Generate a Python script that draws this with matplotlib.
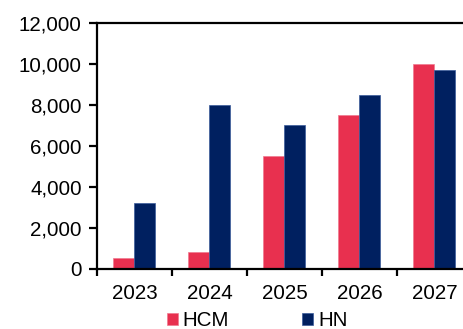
import matplotlib

matplotlib.use("Agg")
import matplotlib.pyplot as plt
import numpy as np

years = ["2023", "2024", "2025", "2026", "2027"]
hcm = [500, 800, 5500, 7500, 10000]
hn = [3200, 8000, 7000, 8500, 9700]
y_ticks = [0, 2000, 4000, 6000, 8000, 10000, 12000]

plt.rcParams["font.family"] = ["Liberation Sans", "DejaVu Sans"]

fig = plt.figure(figsize=(4.64, 3.29), dpi=100)
# 右側被裁掉：axes 超出畫布一點
ax = fig.add_axes([97 / 464, 1 - 268.7 / 329, 375 / 464, 245.7 / 329])

x = np.arange(len(years))
w = 0.28
ax.bar(x - w / 2, hcm, w, color="#E8304F", edgecolor="#F07A90", linewidth=0.5, label="HCM")
ax.bar(x + w / 2, hn, w, color="#002060", edgecolor="#3A5A9A", linewidth=0.5, label="HN")

fs = 14.8
ax.set_xlim(-0.5, len(years) - 0.5)
ax.set_ylim(0, 12000)
ax.set_yticks(y_ticks)
ax.set_yticklabels([f"{v:,}" for v in y_ticks], fontsize=fs)

# x 軸刻度畫在組與組之間，標籤放中間
ax.set_xticks(np.arange(len(years) + 1) - 0.5)
ax.set_xticklabels([])
ax.set_xticks(x, minor=True)
ax.set_xticklabels(years, minor=True, fontsize=fs)
ax.tick_params(axis="x", which="major", direction="out", length=5, width=1.6)
ax.tick_params(axis="x", which="minor", length=0, pad=11)
ax.tick_params(axis="y", direction="out", length=6, width=1.6, pad=5)

for side in ("left", "bottom", "top", "right"):
    ax.spines[side].set_linewidth(1.6)
    ax.spines[side].set_color("black")

fig.legend(
    loc="center",
    bbox_to_anchor=(257 / 464, 1 - 320.5 / 329),
    ncol=2,
    frameon=False,
    fontsize=fs,
    handlelength=0.53,
    handleheight=0.53,
    handletextpad=0.25,
    columnspacing=3.55,
    borderaxespad=0,
    borderpad=0,
)

fig.savefig("out.png")
plt.close(fig)
